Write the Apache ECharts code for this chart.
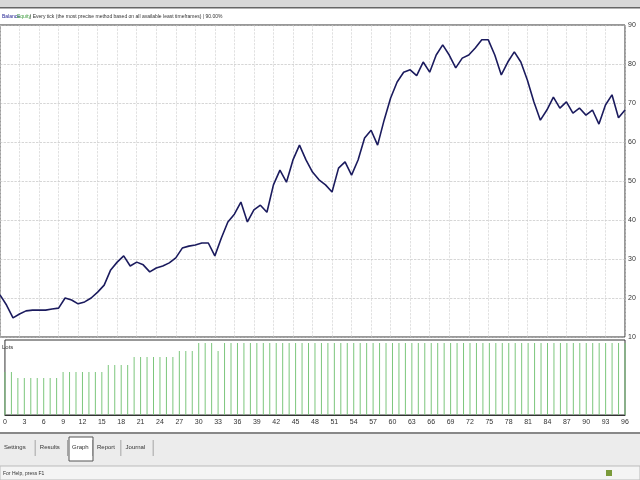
<!DOCTYPE html>
<html>
<head>
<meta charset="utf-8">
<script src="https://cdn.jsdelivr.net/npm/echarts@6/dist/echarts.min.js"></script>
<style>
  html, body { margin: 0; padding: 0; background: #fff; }
  #chart { width: 640px; height: 480px; }
</style>
</head>
<body>
<div id="chart"></div>
<script>
// balance curve, one value per trade
const balance = [
  20.8, 18.2, 14.9, 15.9, 16.7, 16.9, 16.9, 16.9, 17.2, 17.4,
  20, 19.5, 18.5, 19, 20, 21.5, 23.3, 27.2, 29.2, 30.8,
  28.2, 29.2, 28.5, 26.7, 27.7, 28.2, 29, 30.3, 32.8, 33.3,
  33.6, 34.1, 34.1, 30.8, 35.4, 39.5, 41.5, 44.6, 39.5, 42.6,
  43.8, 42, 49, 52.8, 49.7, 55.4, 59.2, 55.4, 52.3, 50.3,
  49, 47.2, 53.3, 54.9, 51.5, 55.4, 61, 63, 59.2, 65.6,
  71.3, 75.4, 77.9, 78.5, 77, 80.5, 77.9, 82.3, 84.9, 82.3,
  79, 81.5, 82.3, 84.1, 86.2, 86.2, 82.3, 77.2, 80.5, 83.1,
  80.5, 75.9, 70.3, 65.6, 68.2, 71.5, 68.7, 70.3, 67.4, 68.7,
  66.9, 68.2, 64.6, 69.5, 72.1, 66.2, 68.2
];
// lot size per trade (lower pane)
const lots = [
  43, 43, 37, 37, 37, 37, 37, 37, 37, 43,
  43, 43, 43, 43, 43, 43, 50, 50, 50, 50,
  58, 58, 58, 58, 58, 58, 58, 64, 64, 64,
  72, 72, 72, 64, 72, 72, 72, 72, 72, 72,
  72, 72, 72, 72, 72, 72, 72, 72, 72, 72,
  72, 72, 72, 72, 72, 72, 72, 72, 72, 72,
  72, 72, 72, 72, 72, 72, 72, 72, 72, 72,
  72, 72, 72, 72, 72, 72, 72, 72, 72, 72,
  72, 72, 72, 72, 72, 72, 72, 72, 72, 72,
  72, 72, 72, 72, 72, 72, 72
];
const trades = balance.map((v, i) => String(i));
const tabs = ['Settings', 'Results', 'Graph', 'Report', 'Journal'];

const chart = echarts.init(document.getElementById('chart'));
const small = { fontSize: 7, color: '#333', fontFamily: 'Liberation Sans' };
const dashed = { show: true, lineStyle: { color: '#bbb', type: 'dashed', width: 0.6 } };

const tabGraphics = [];
let tx = 2;
tabs.forEach((t, i) => {
  const w = t.length * 3.6 + 4;
  if (t === 'Graph') {
    tabGraphics.push({ type: 'rect', shape: { x: tx - 1, y: 437, width: w + 2, height: 24 },
      style: { fill: '#fff', stroke: '#555', lineWidth: 1 } });
  }
  tabGraphics.push({ type: 'text', left: tx + 2, top: 444, style: { text: t, fontSize: 6, fill: '#333' } });
  tabGraphics.push({ type: 'rect', shape: { x: tx + w, y: 440, width: 0.6, height: 16 }, style: { fill: '#777' } });
  tx += w + 3;
});

chart.setOption({
  animation: false,
  backgroundColor: '#fff',
  grid: [
    { left: 0, right: 15, top: 25, height: 312, show: true, borderColor: '#333', borderWidth: 1 },
    { left: 0, right: 15, top: 340, height: 75, show: true, borderColor: '#333', borderWidth: 1 }
  ],
  xAxis: [
    { type: 'category', gridIndex: 0, data: trades, boundaryGap: false,
      axisLine: { show: false }, axisTick: { show: false }, axisLabel: { show: false },
      splitLine: { show: true, interval: 2, lineStyle: { color: '#ccc', type: 'dashed', width: 0.6 } } },
    { type: 'category', gridIndex: 1, data: trades, boundaryGap: false,
      axisLine: { lineStyle: { color: '#333' } }, axisTick: { show: false },
      axisLabel: { ...small, interval: 2, margin: 4 }, splitLine: { show: false } }
  ],
  yAxis: [
    { type: 'value', gridIndex: 0, position: 'right', min: 10, max: 90, interval: 10,
      axisLine: { show: false }, axisTick: { show: false },
      axisLabel: { ...small, margin: 3 }, splitLine: dashed },
    { type: 'value', gridIndex: 1, min: 0, max: 75,
      axisLine: { show: false }, axisTick: { show: false },
      axisLabel: { show: false }, splitLine: { show: false } }
  ],
  series: [
    { type: 'line', xAxisIndex: 0, yAxisIndex: 0, data: balance, symbol: 'none',
      lineStyle: { color: '#1b1b5e', width: 1.6 } },
    { type: 'bar', xAxisIndex: 1, yAxisIndex: 1, data: lots, barWidth: 1,
      itemStyle: { color: '#7cc67c' } }
  ],
  graphic: [
    { type: 'rect', shape: { x: 0, y: 0, width: 640, height: 7 }, style: { fill: '#d8d8d8' } },
    { type: 'rect', shape: { x: 0, y: 7, width: 640, height: 1.5 }, style: { fill: '#666' } },
    { type: 'text', left: 2, top: 14, style: { text: 'Balance', fontSize: 5, fill: '#1b1b8e' } },
    { type: 'text', left: 17, top: 14, style: { text: 'Equity', fontSize: 5, fill: '#3a9a3a' } },
    { type: 'text', left: 30, top: 14, style: { text: '| Every tick (the most precise method based on all available least timeframes) | 90.00%', fontSize: 5, fill: '#333' } },
    { type: 'text', left: 2, top: 344, style: { text: 'Lots', fontSize: 6, fill: '#333' } },
    { type: 'rect', shape: { x: 0, y: 432, width: 640, height: 48 }, style: { fill: '#ececec' } },
    { type: 'rect', shape: { x: 0, y: 432, width: 640, height: 2 }, style: { fill: '#888' } },
    ...tabGraphics,
    { type: 'rect', shape: { x: 0, y: 466, width: 640, height: 14 }, style: { fill: '#f4f4f4', stroke: '#bbb' } },
    { type: 'text', left: 3, top: 471, style: { text: 'For Help, press F1', fontSize: 5, fill: '#333' } },
    { type: 'rect', shape: { x: 606, y: 470, width: 6, height: 6 }, style: { fill: '#7a9a3a' } }
  ]
});
</script>
</body>
</html>
